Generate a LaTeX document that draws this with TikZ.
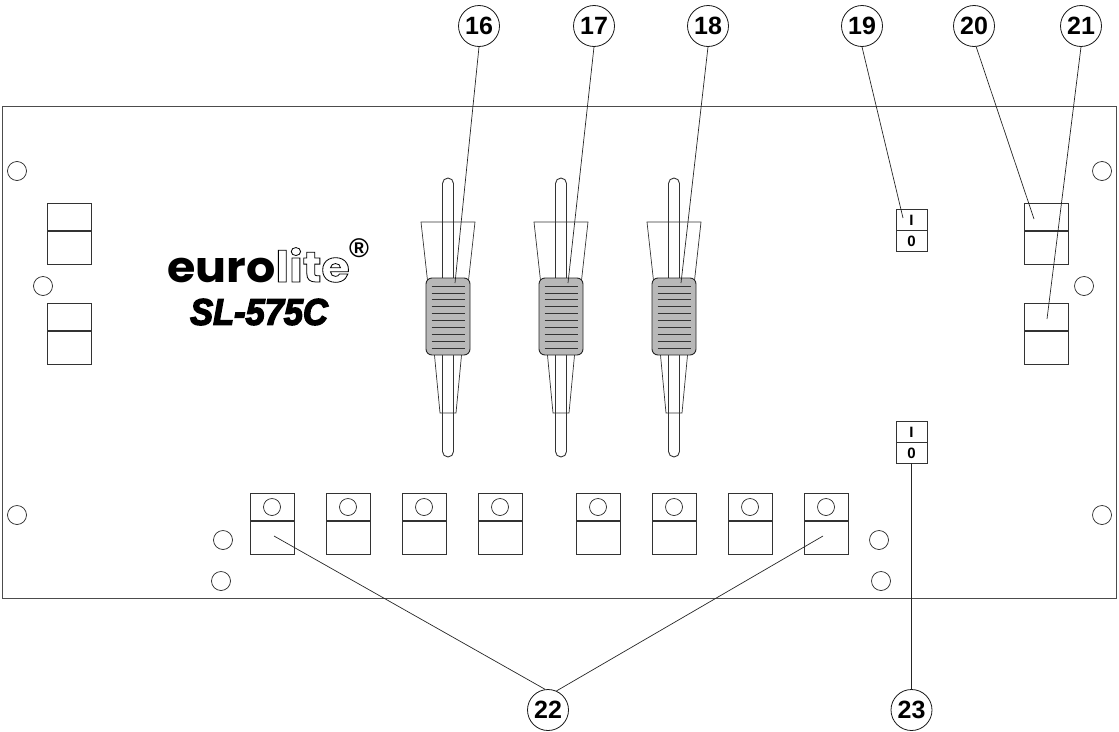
\documentclass[tikz,border=0pt]{standalone}
\usepackage{fontspec}
\setmainfont{Liberation Sans}
\newfontfamily\logofont[Scale=1]{Poppins Bold}
\newfontfamily\typefont[FakeBold=4]{Liberation Sans Bold Italic}
\newcommand{\outlined}[1]{\special{pdf:code 1 Tr 0.8 w}#1\special{pdf:code 0 Tr}}
\tikzset{
  panelline/.style={draw=black!80, line width=0.9pt},
  hole/.style={circle, draw=black!85, line width=0.7pt, inner sep=0pt, minimum size=19pt},
  ledhole/.style={circle, draw=black!85, line width=0.7pt, inner sep=0pt, minimum size=17pt},
  swtop/.style={rectangle, panelline, inner sep=0pt, minimum width=44pt, minimum height=27pt, anchor=south},
  swbot/.style={rectangle, panelline, inner sep=0pt, minimum width=44pt, minimum height=33pt, anchor=north},
  mains/.style={rectangle, panelline, inner sep=0pt, minimum width=31pt, minimum height=21pt, font=\bfseries\fontsize{15}{15}\selectfont},
  callout/.style={circle, draw=black!90, line width=0.8pt, fill=white, inner sep=0pt, minimum size=41pt, font=\bfseries\fontsize{25}{25}\selectfont},
  leader/.style={draw=black!85, line width=0.7pt},
  knob/.style={rectangle, rounded corners=6pt, draw=black!85, fill=black!28, line width=0.9pt, inner sep=0pt, minimum width=44pt, minimum height=77pt},
}
\begin{document}
\begin{tikzpicture}[x=1pt, y=-1pt]
  \useasboundingbox (0,0) rectangle (1119,731);
  \node[rectangle, draw=black!70, line width=1.2pt, inner sep=0pt, minimum width=1114pt, minimum height=492pt, anchor=north west] (panel) at (2,106) {};

  % rack holes
  \node[hole] (h1) at (17,171) {};
  \node[hole] (h2) at (1102,171) {};
  \node[hole] (h3) at (43,286) {};
  \node[hole] (h4) at (1084,286) {};
  \node[hole] (h5) at (17,515) {};
  \node[hole] (h6) at (1102,515) {};
  \node[hole] (h7) at (223,540) {};
  \node[hole] (h8) at (221,581) {};
  \node[hole] (h9) at (879,540) {};
  \node[hole] (h10) at (881,581) {};

  % side switches
  \node[swtop] (la) at (69,231) {};
  \node[swbot] (lb) at (69,231) {};
  \node[swtop] (lc) at (69,331) {};
  \node[swbot] (ld) at (69,331) {};
  \node[swtop] (ra) at (1046.5,231) {};
  \node[swbot] (rb) at (1046.5,231) {};
  \node[swtop] (rc) at (1046.5,331) {};
  \node[swbot] (rd) at (1046.5,331) {};

  % mains switches
  \node[mains] (m1) at (911.5,220) {I};
  \node[mains] (m2) at (911.5,241) {0};
  \node[mains] (m3) at (911.5,432) {I};
  \node[mains] (m4) at (911.5,453) {0};

  % bottom row
  \foreach \n/\x in {1/272, 2/348, 3/424, 4/500, 5/598, 6/674, 7/750, 8/826} {
    \node[swtop] (bt\n) at (\x,521) {};
    \node[swbot] (bb\n) at (\x,521) {};
    \node[ledhole] (bl\n) at (\x,507) {};
  }

  % faders
  \foreach \n/\x in {1/448, 2/561, 3/674} {
    \draw[panelline, rounded corners=5.5pt] (\x-5.5,300) -- (\x-5.5,178) -- (\x+5.5,178) -- (\x+5.5,300);
    \draw[panelline, rounded corners=5.5pt] (\x-5.5,340) -- (\x-5.5,457) -- (\x+5.5,457) -- (\x+5.5,340);
    \draw[panelline, line width=0.7pt] (\x-20,285) -- (\x-27,222) -- (\x+27,222) -- (\x+20,285);
    \draw[panelline, line width=0.7pt] (\x-14,350) -- (\x-8,413) -- (\x+8,413) -- (\x+14,350);
    \node[knob] (k\n) at (\x,316.5) {};
    \foreach \i in {0,...,9} {
      \draw[black!80, line width=0.8pt] (\x-16.5,286+6.9*\i) -- (\x+16.5,286+6.9*\i);
    }
  }

  % logo
  \node[inner sep=0pt, anchor=base west, xscale=1.07] (logo) at (167,282) {\logofont\fontsize{43}{43}\selectfont euro\outlined{lite}};
  \node[inner sep=0pt] (reg) at (359,248) {\bfseries\fontsize{27}{27}\selectfont\textregistered};
  \node[inner sep=0pt, xscale=0.93] (model) at (259,312) {\typefont\fontsize{37}{37}\selectfont SL-575C};

  % callouts
  \node[callout] (c16) at (479,26) {16};
  \node[callout] (c17) at (594,26) {17};
  \node[callout] (c18) at (708,26) {18};
  \node[callout] (c19) at (862,26) {19};
  \node[callout] (c20) at (974,26) {20};
  \node[callout] (c21) at (1081,26) {21};
  \node[callout] (c22) at (548,710) {22};
  \node[callout] (c23) at (911.5,710) {23};

  \coordinate (t16) at (455,283);
  \coordinate (t17) at (568,283);
  \coordinate (t18) at (681,283);
  \coordinate (t19) at (903,218);
  \coordinate (t20) at (1034,219);
  \coordinate (t21) at (1047,319);
  \coordinate (t22a) at (274,536);
  \coordinate (t22b) at (823,536);
  \coordinate (t23) at (911.5,463);

  \draw[leader] (c16.south) -- (t16);
  \draw[leader] (c17.south) -- (t17);
  \draw[leader] (c18.south) -- (t18);
  \draw[leader] (c19.south) -- (t19);
  \draw[leader] (c20.276) -- (t20);
  \draw[leader] (c21.south) -- (t21);
  \draw[leader] (c22.98) -- (t22a);
  \draw[leader] (c22.66) -- (t22b);
  \draw[leader] (c23.north) -- (t23);
\end{tikzpicture}
\end{document}
